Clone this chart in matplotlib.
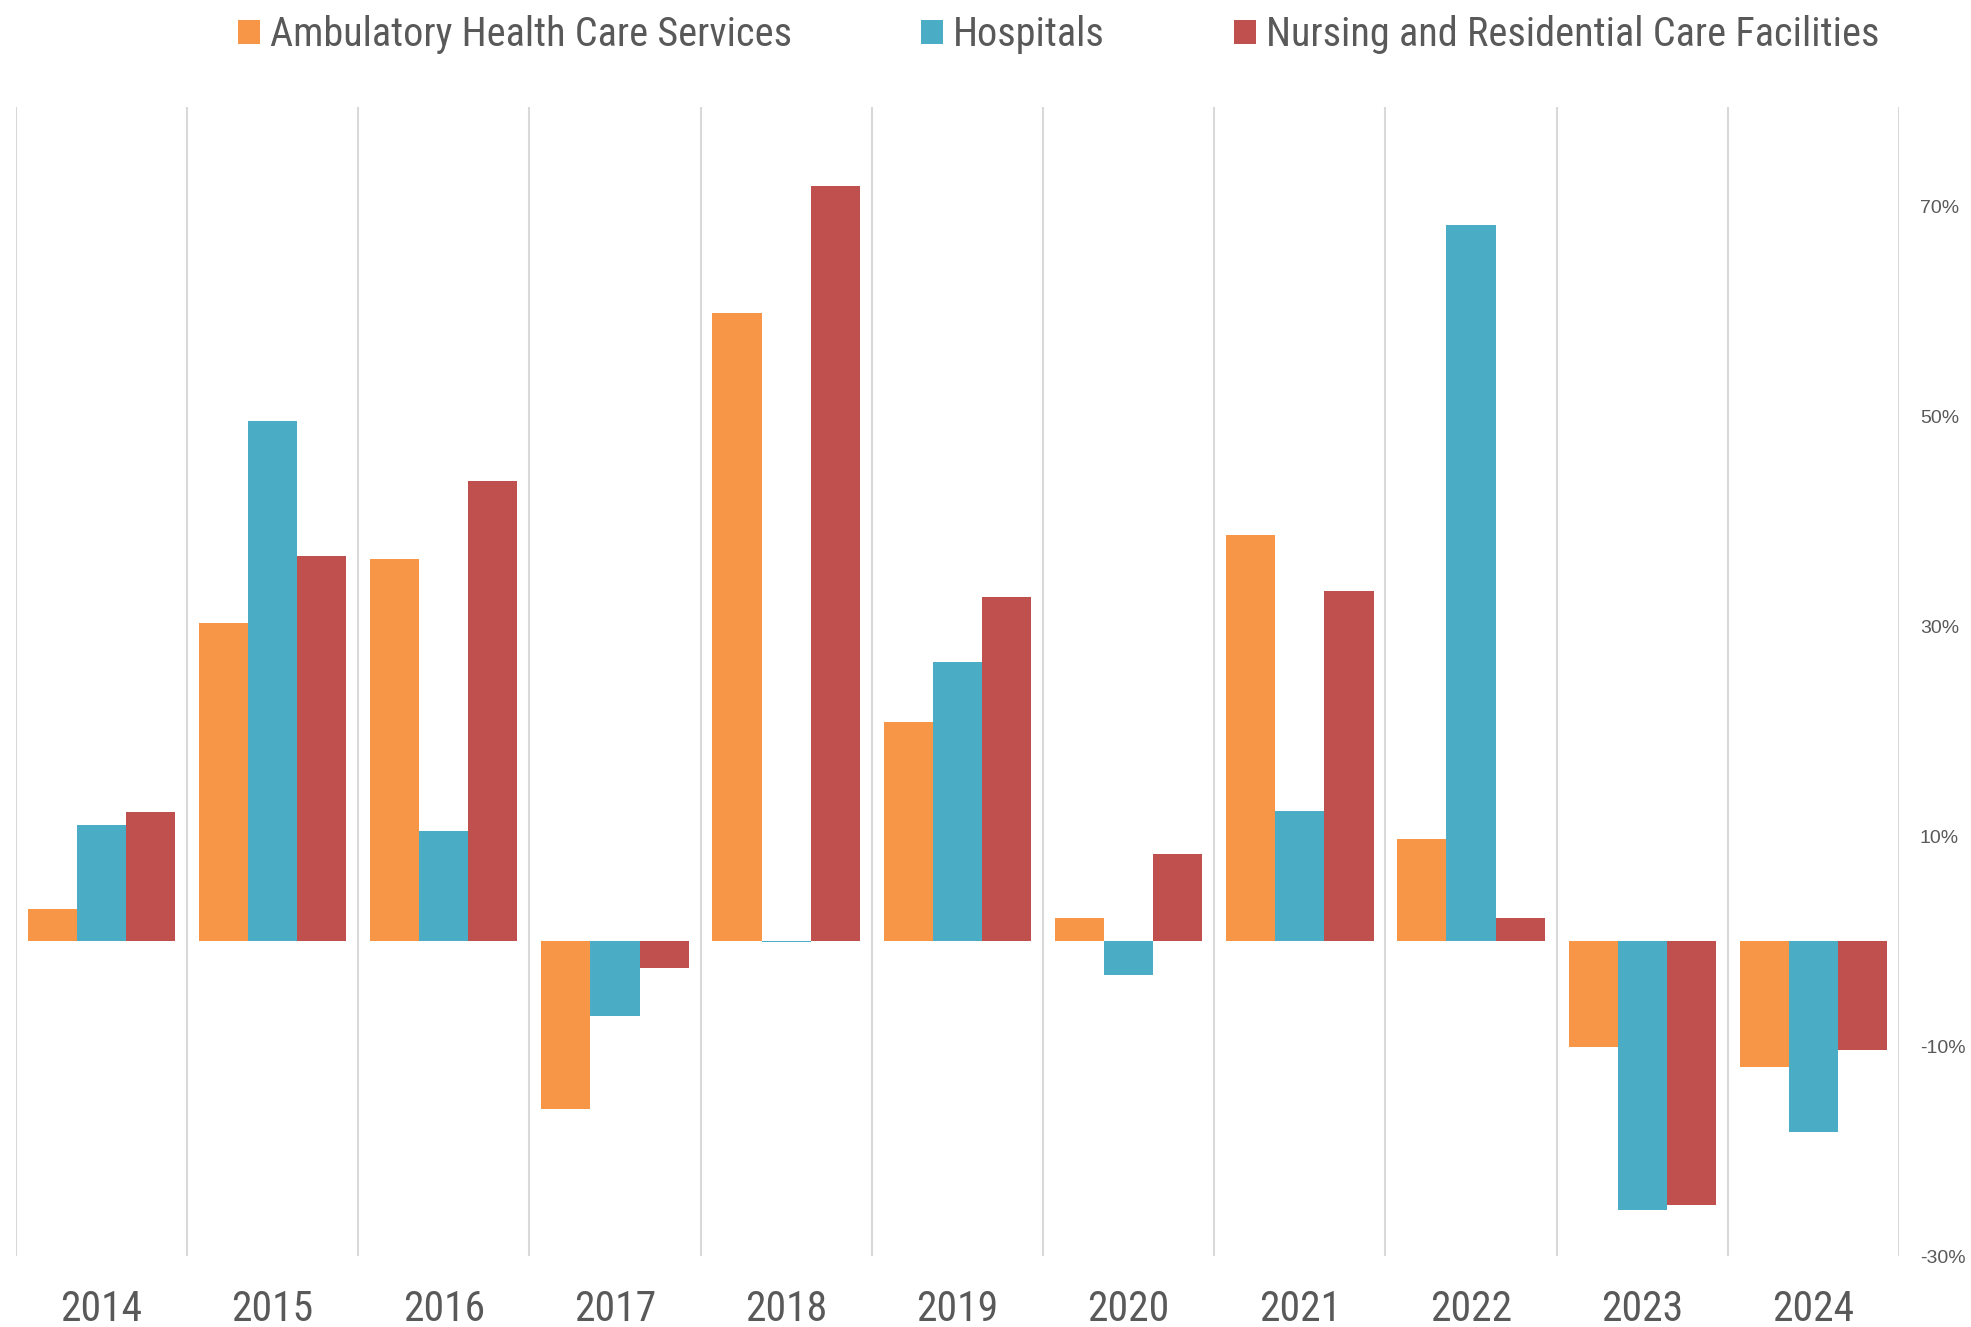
"""Grouped bar chart of annual change by health care sub-sector, 2014-2024."""

from __future__ import annotations

from typing import Final

import matplotlib

matplotlib.use("Agg")

import matplotlib.pyplot as plt
import numpy as np
from matplotlib.patches import Patch
from matplotlib.ticker import FuncFormatter

YEARS: Final[list[str]] = [
    "2014", "2015", "2016", "2017", "2018", "2019",
    "2020", "2021", "2022", "2023", "2024",
]

SERIES_NAMES: Final[list[str]] = [
    "Ambulatory Health Care Services",
    "Hospitals",
    "Nursing and Residential Care Facilities",
]

AMBULATORY: Final[list[float]] = [3.1, 30.3, 36.4, -16.0, 59.8, 20.9, 2.2, 38.7, 9.7, -10.1, -12.0]
HOSPITALS: Final[list[float]] = [11.1, 49.5, 10.5, -7.1, -0.1, 26.6, -3.2, 12.4, 68.2, -25.6, -18.2]
NURSING: Final[list[float]] = [12.3, 36.7, 43.8, -2.6, 71.9, 32.8, 8.3, 33.3, 2.2, -25.1, -10.4]

Y_TICKS: Final[list[int]] = [-30, -10, 10, 30, 50, 70]

_COLORS: Final[list[str]] = ["#F79646", "#4BACC6", "#C0504D"]
_TEXT_COLOR: Final[str] = "#595959"
_GRID_COLOR: Final[str] = "#D9D9D9"
_NARROW: Final[list[str]] = ["Roboto Condensed", "DejaVu Sans"]
_BAR_WIDTH: Final[float] = 0.287


def main() -> None:
    plt.rcParams["font.family"] = ["Liberation Sans", "DejaVu Sans"]

    fig = plt.figure(figsize=(19.71, 13.27), dpi=100)
    ax = fig.add_axes([0.008, 0.0535, 0.9555, 0.8655])

    x = np.arange(len(YEARS))
    for offset, values, color in zip((-1, 0, 1), (AMBULATORY, HOSPITALS, NURSING), _COLORS):
        ax.bar(x + offset * _BAR_WIDTH, values, width=_BAR_WIDTH, color=color, linewidth=0, zorder=2)

    # category separators
    for edge in np.arange(len(YEARS) + 1) - 0.5:
        ax.axvline(edge, color=_GRID_COLOR, linewidth=1.5, zorder=1)

    ax.set_xlim(-0.5, len(YEARS) - 0.5)
    ax.set_ylim(-30, 79.4)

    for side in ("top", "bottom", "left", "right"):
        ax.spines[side].set_visible(False)

    ax.set_xticks(x)
    ax.set_xticklabels(YEARS, family=_NARROW, fontsize=30, color=_TEXT_COLOR)
    ax.tick_params(axis="x", length=0, pad=24)

    ax.yaxis.tick_right()
    ax.set_yticks(Y_TICKS)
    ax.yaxis.set_major_formatter(FuncFormatter(lambda v, _: f"{v:.0f}%"))
    ax.tick_params(axis="y", length=0, pad=15, labelsize=14, labelcolor=_TEXT_COLOR)

    handles = [Patch(facecolor=c, edgecolor="none") for c in _COLORS]
    fig.legend(
        handles,
        SERIES_NAMES,
        loc="center",
        bbox_to_anchor=(0.537, 0.974),
        ncol=3,
        frameon=False,
        prop={"family": _NARROW, "size": 29},
        labelcolor=_TEXT_COLOR,
        handlelength=0.55,
        handleheight=0.55,
        handletextpad=0.25,
        columnspacing=3.2,
    )

    fig.savefig("out.png", dpi=100)
    plt.close(fig)


if __name__ == "__main__":
    main()
